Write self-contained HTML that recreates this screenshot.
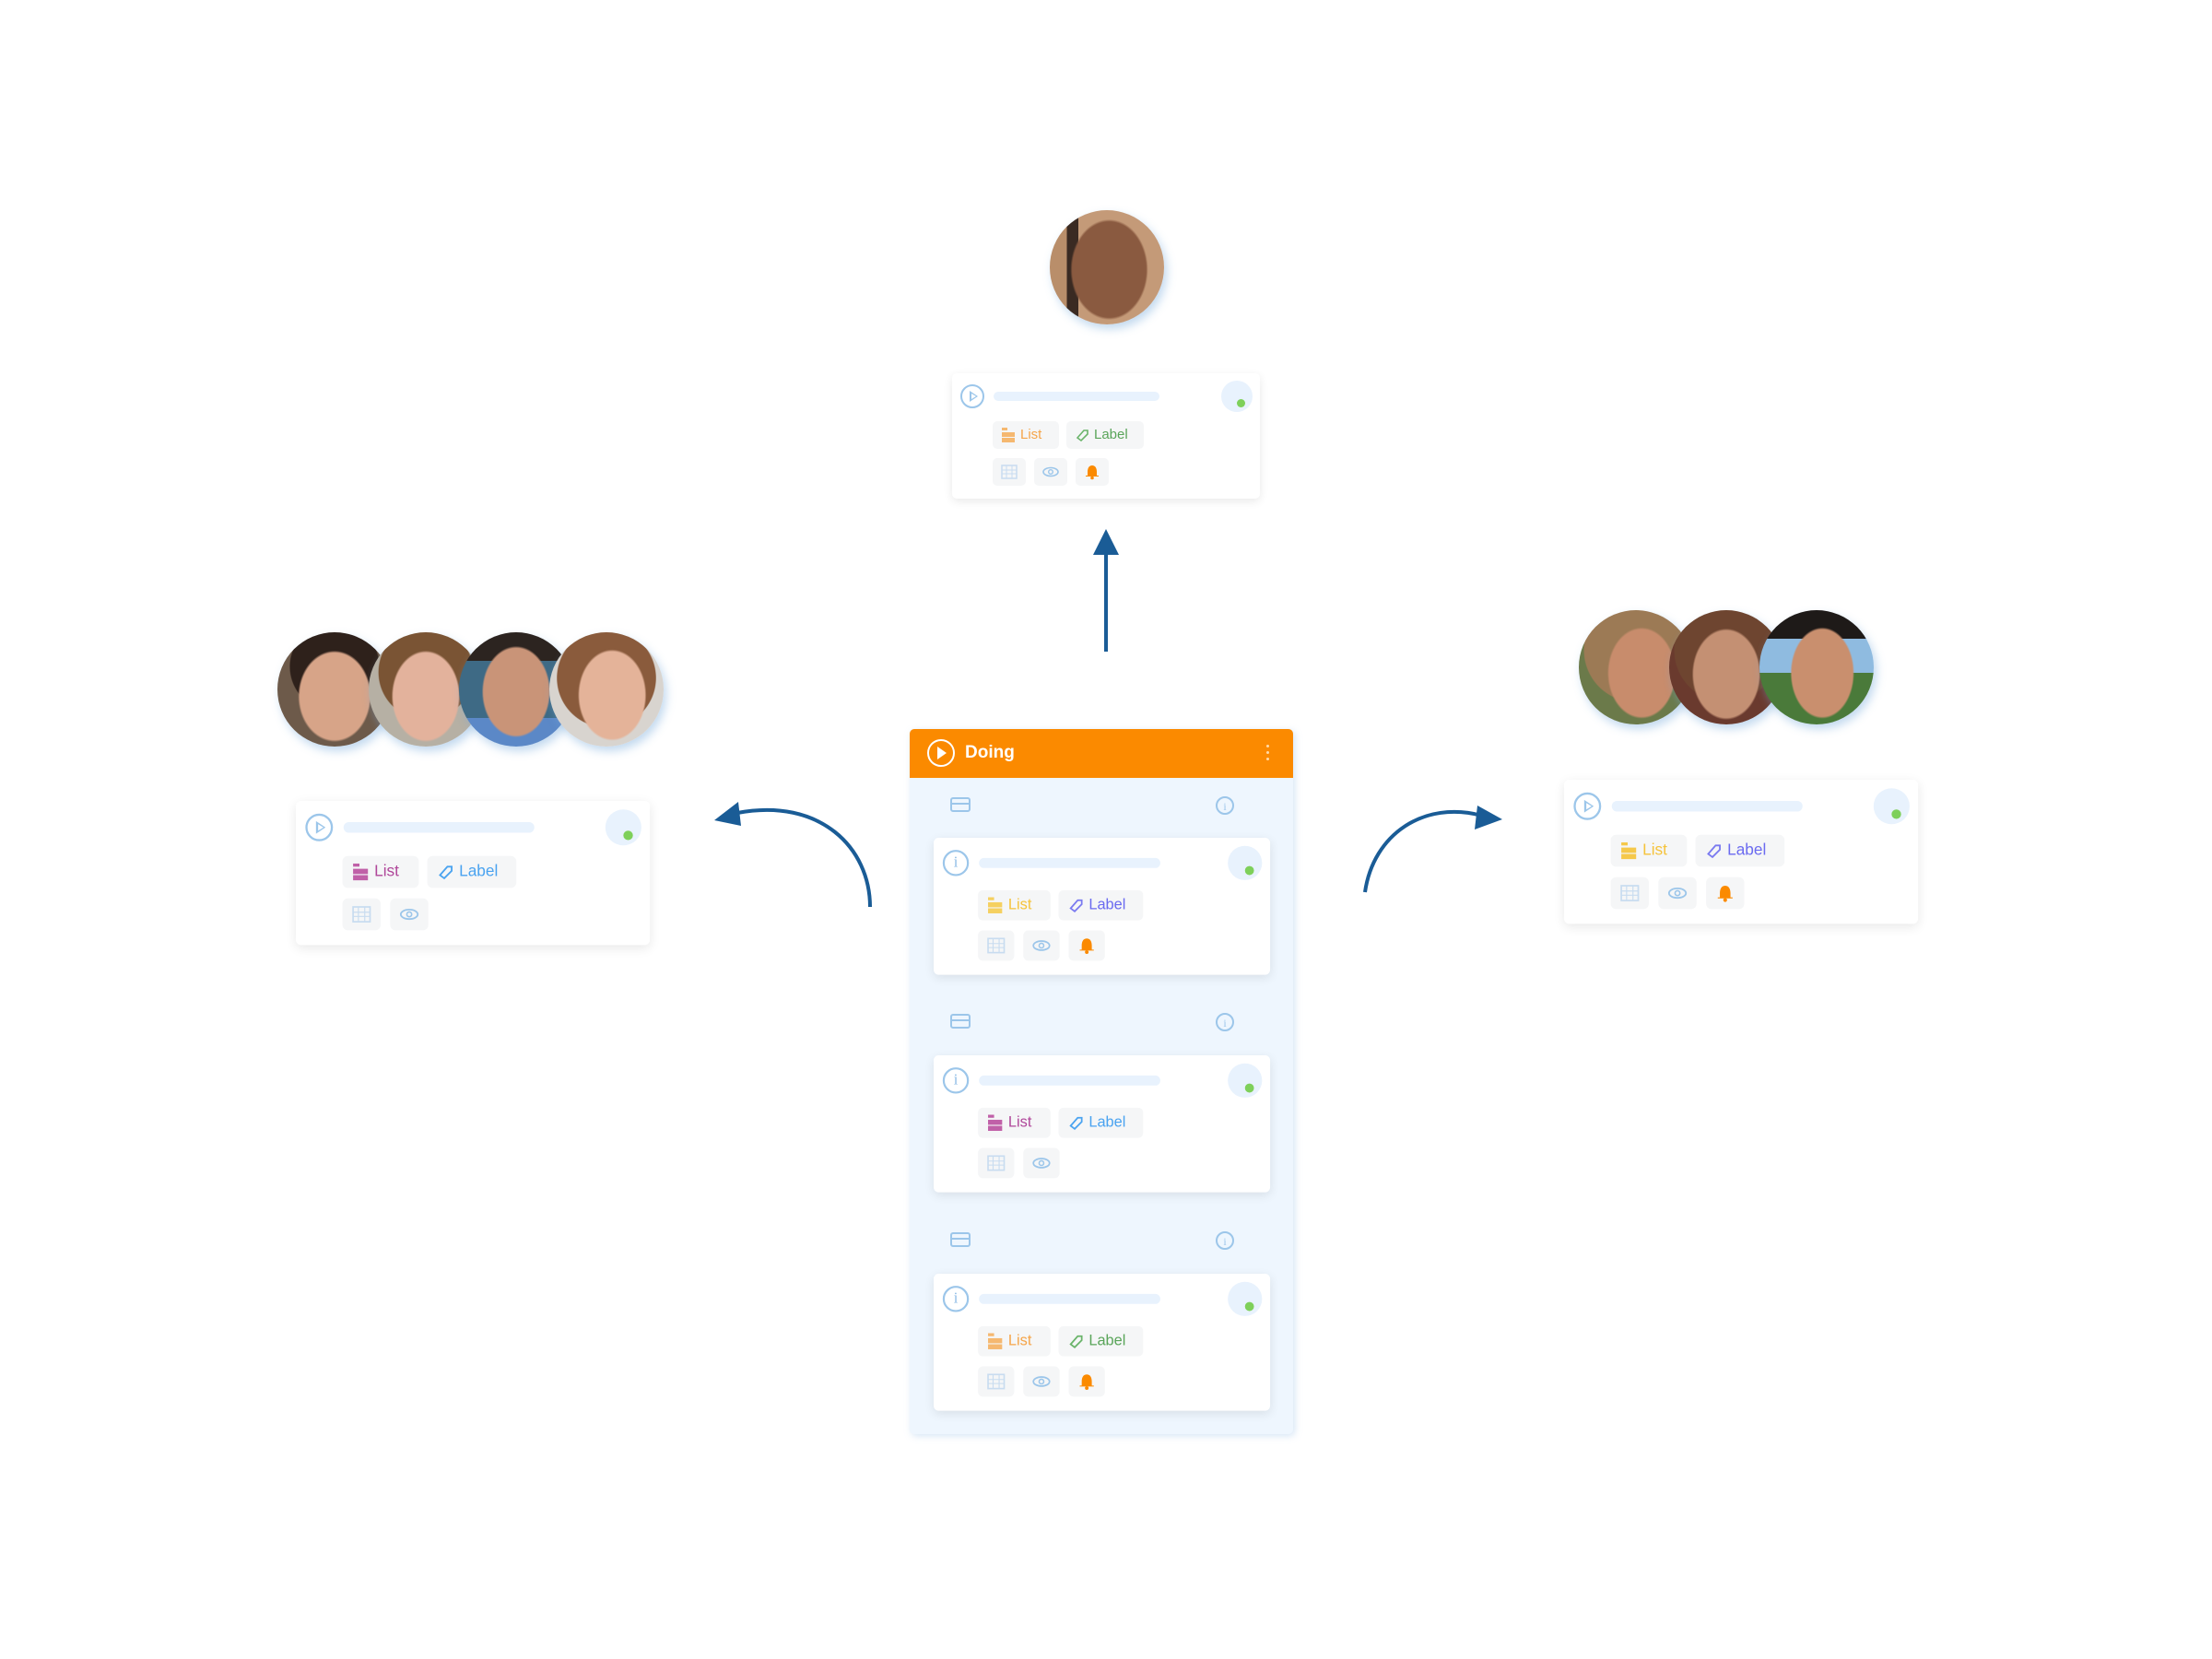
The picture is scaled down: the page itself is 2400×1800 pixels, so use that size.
<!DOCTYPE html>
<html><head><meta charset="utf-8">
<style>
*{box-sizing:border-box;margin:0;padding:0}
body{width:2400px;height:1800px;background:#fff;position:relative;overflow:hidden;font-family:"Liberation Sans",sans-serif}
.card{position:absolute;width:334px;height:136px;background:#fff;border-radius:5px;box-shadow:0 3px 10px rgba(0,0,0,.09);transform-origin:0 0}
.card .play{position:absolute;left:9px;top:12px;width:26px;height:26px;border:2px solid #9cc6ea;border-radius:50%}
.card .play:after{content:"";position:absolute;left:8px;top:5px;border-left:9px solid #9cc6ea;border-top:6px solid transparent;border-bottom:6px solid transparent}
.card .play i{position:absolute;left:10px;top:8px;border-left:5px solid #fff;border-top:3px solid transparent;border-bottom:3px solid transparent;z-index:2}
.card .info{position:absolute;left:9px;top:12px;width:26px;height:26px;border:2px solid #9cc6ea;border-radius:50%;color:#8cbbe6;font:15px "Liberation Serif",serif;text-align:center;line-height:22px}
.card .bar{position:absolute;left:45px;top:20px;width:180px;height:10px;border-radius:5px;background:#e8f2fd}
.card .av{position:absolute;left:292px;top:8px;width:34px;height:34px;border-radius:50%;background:#e8f2fd}
.card .dot{position:absolute;left:309px;top:28px;width:9px;height:9px;border-radius:50%;background:#7ed05a}
.chip{position:absolute;height:30px;border-radius:5px;background:#f5f6f7;font-size:15px;line-height:30px;padding-left:30px}
.chip.list{left:44px;top:52px;width:72px}
.chip.lab{left:124px;top:52px;width:84px}
.chip svg{position:absolute;left:9px;top:7px}
.ic{position:absolute;top:92px;width:36px;height:30px;border-radius:5px;background:#f5f6f7}
.ic svg{position:absolute;left:9px;top:6px}
.col{position:absolute;left:987px;top:791px;width:416px;height:765px;background:#eef6fe;border-radius:5px;box-shadow:2px 2px 8px rgba(150,190,230,.4)}
.hdr{position:absolute;left:987px;top:791px;width:416px;height:53px;background:#fb8a00;border-radius:5px 5px 0 0;color:#fff;font-size:19px;font-weight:bold}
.ava{position:absolute;width:124px;height:124px;border-radius:50%;overflow:hidden;box-shadow:3px 5px 10px rgba(120,170,220,.45)}
</style></head><body>

<svg width="0" height="0" style="position:absolute">
<defs>
<g id="listi"><rect x="1" y="0" width="6" height="3"/><rect x="1" y="5" width="14" height="5"/><rect x="1" y="11" width="14" height="5"/></g>
</defs></svg>

<!-- avatars -->
<div class="ava" style="left:1139px;top:228px;background:radial-gradient(ellipse 34% 44% at 52% 52%,#8a5a40 0 95%,transparent 100%),linear-gradient(90deg,#b98e6a 0 15%,#3a2a22 15% 25%,#c49a78 25%)"></div>
<div class="ava" style="left:301px;top:686px;background:radial-gradient(ellipse 32% 40% at 50% 56%,#d7a488 0 95%,transparent 100%),radial-gradient(circle at 50% 30%,#2e211b 45%,#6d5a4a 46%)"></div>
<div class="ava" style="left:400px;top:686px;background:radial-gradient(ellipse 30% 40% at 50% 56%,#e3b29c 0 95%,transparent 100%),radial-gradient(circle at 50% 35%,#7a5434 50%,#b6b0a4 51%)"></div>
<div class="ava" style="left:498px;top:686px;background:radial-gradient(ellipse 30% 40% at 50% 52%,#c99478 0 95%,transparent 100%),linear-gradient(180deg,#2c2420 0 25%,#3e6a85 25% 75%,#5b88c7 75%)"></div>
<div class="ava" style="left:596px;top:686px;background:radial-gradient(ellipse 30% 40% at 55% 55%,#e4b399 0 95%,transparent 100%),radial-gradient(circle at 50% 40%,#8a5b3c 55%,#d8d4cf 56%)"></div>
<div class="ava" style="left:1713px;top:662px;background:radial-gradient(ellipse 30% 40% at 55% 55%,#c88c6c 0 95%,transparent 100%),radial-gradient(circle at 50% 35%,#9c7a55 55%,#6b7a4a 56%)"></div>
<div class="ava" style="left:1811px;top:662px;background:radial-gradient(ellipse 30% 40% at 50% 56%,#c49073 0 95%,transparent 100%),radial-gradient(circle at 50% 35%,#6e4530 55%,#6a3a2e 56%)"></div>
<div class="ava" style="left:1909px;top:662px;background:radial-gradient(ellipse 28% 40% at 55% 55%,#c98f6e 0 95%,transparent 100%),linear-gradient(180deg,#1e1a18 0 25%,#8fbbe0 25% 55%,#4a7a3a 55%)"></div>

<!-- arrows -->
<svg style="position:absolute;left:0;top:0" width="2400" height="1800">
<g stroke="#1a5c96" stroke-width="4" fill="none">
<line x1="1200" y1="707" x2="1200" y2="595"/>
<path d="M944,984 C944,920 890,865 800,882"/>
<path d="M1481,968 C1490,905 1545,868 1608,885"/>
</g>
<g fill="#1a5c96">
<polygon points="1200,574 1186,602 1214,602"/>
<polygon points="775,890 801,870 804,896"/>
<polygon points="1630,889 1603,874 1600,900"/>
</g>
</svg>

<!-- column -->
<div class="col"></div>
<div class="hdr">
  <div style="position:absolute;left:19px;top:11px;width:30px;height:30px;border:2px solid #fff;border-radius:50%"></div>
  <div style="position:absolute;left:30px;top:19px;border-left:10px solid #fff;border-top:7px solid transparent;border-bottom:7px solid transparent"></div>
  <div style="position:absolute;left:60px;top:15px">Doing</div>
  <div style="position:absolute;right:26px;top:15px;width:3px;height:22px;background:radial-gradient(circle,#ffd9a6 1.4px,transparent 1.6px) 0 0/3px 7px"></div>
</div>
<!-- row icons -->
<svg style="position:absolute;left:0;top:0" width="2400" height="1800">
<g stroke="#9cc6ea" stroke-width="2" fill="none">
<rect x="1032" y="866" width="20" height="14" rx="2"/><line x1="1032" y1="872" x2="1052" y2="872"/>
<circle cx="1329" cy="874" r="9"/>
<rect x="1032" y="1101" width="20" height="14" rx="2"/><line x1="1032" y1="1107" x2="1052" y2="1107"/>
<circle cx="1329" cy="1109" r="9"/>
<rect x="1032" y="1338" width="20" height="14" rx="2"/><line x1="1032" y1="1344" x2="1052" y2="1344"/>
<circle cx="1329" cy="1346" r="9"/>
</g>
<g fill="#9cc6ea" font-size="12" font-family="Liberation Serif" text-anchor="middle">
<text x="1329" y="879">i</text><text x="1329" y="1114">i</text><text x="1329" y="1351">i</text>
</g>
</svg>

<!-- cards generator via repeated markup -->
<!-- top card -->
<div class="card" style="left:1033px;top:405px">
 <div class="play"><i></i></div><div class="bar"></div><div class="av"></div><div class="dot"></div>
 <div class="chip list" style="color:#f5a54a"><svg width="16" height="16" fill="#f5b870"><use href="#listi"/></svg>List</div>
 <div class="chip lab" style="color:#5aa55a"><svg width="16" height="16"><path d="M3,11 L10,3 L14,3 L14,7 L7,14 Z" fill="none" stroke="#6ab46a" stroke-width="1.6"/></svg>Label</div>
 <div class="ic" style="left:44px"><svg width="18" height="18"><rect x="1" y="2" width="16" height="14" fill="none" stroke="#c8dcf0" stroke-width="1.5"/><path d="M1,7H17M1,11H17M6,2V16M12,2V16" stroke="#c8dcf0"/></svg></div>
 <div class="ic" style="left:89px"><svg width="18" height="18"><ellipse cx="9" cy="9" rx="8" ry="4.5" fill="none" stroke="#9cc6ea" stroke-width="1.6"/><circle cx="9" cy="9" r="2.3" fill="none" stroke="#9cc6ea" stroke-width="1.4"/></svg></div>
 <div class="ic" style="left:134px"><svg width="18" height="18"><path d="M9,2C5,2 4,6 4,9V13H2V14H16V13H14V9C14,6 13,2 9,2Z" fill="#fb8a00"/><circle cx="9" cy="15.5" r="1.8" fill="#fb8a00"/></svg></div>
</div>

<!-- left card -->
<div class="card" style="left:321px;top:869px;transform:scale(1.15)">
 <div class="play"><i></i></div><div class="bar"></div><div class="av"></div><div class="dot"></div>
 <div class="chip list" style="color:#b0479a"><svg width="16" height="16" fill="#c060a8"><use href="#listi"/></svg>List</div>
 <div class="chip lab" style="color:#4aa3f0"><svg width="16" height="16"><path d="M3,11 L10,3 L14,3 L14,7 L7,14 Z" fill="none" stroke="#4aa3f0" stroke-width="1.6"/></svg>Label</div>
 <div class="ic" style="left:44px"><svg width="18" height="18"><rect x="1" y="2" width="16" height="14" fill="none" stroke="#c8dcf0" stroke-width="1.5"/><path d="M1,7H17M1,11H17M6,2V16M12,2V16" stroke="#c8dcf0"/></svg></div>
 <div class="ic" style="left:89px"><svg width="18" height="18"><ellipse cx="9" cy="9" rx="8" ry="4.5" fill="none" stroke="#9cc6ea" stroke-width="1.6"/><circle cx="9" cy="9" r="2.3" fill="none" stroke="#9cc6ea" stroke-width="1.4"/></svg></div>
</div>

<!-- right card -->
<div class="card" style="left:1697px;top:846px;transform:scale(1.15)">
 <div class="play"><i></i></div><div class="bar"></div><div class="av"></div><div class="dot"></div>
 <div class="chip list" style="color:#f5c33b"><svg width="16" height="16" fill="#f5c84a"><use href="#listi"/></svg>List</div>
 <div class="chip lab" style="color:#6b6bf0"><svg width="16" height="16"><path d="M3,11 L10,3 L14,3 L14,7 L7,14 Z" fill="none" stroke="#7a7af0" stroke-width="1.6"/></svg>Label</div>
 <div class="ic" style="left:44px"><svg width="18" height="18"><rect x="1" y="2" width="16" height="14" fill="none" stroke="#c8dcf0" stroke-width="1.5"/><path d="M1,7H17M1,11H17M6,2V16M12,2V16" stroke="#c8dcf0"/></svg></div>
 <div class="ic" style="left:89px"><svg width="18" height="18"><ellipse cx="9" cy="9" rx="8" ry="4.5" fill="none" stroke="#9cc6ea" stroke-width="1.6"/><circle cx="9" cy="9" r="2.3" fill="none" stroke="#9cc6ea" stroke-width="1.4"/></svg></div>
 <div class="ic" style="left:134px"><svg width="18" height="18"><path d="M9,2C5,2 4,6 4,9V13H2V14H16V13H14V9C14,6 13,2 9,2Z" fill="#fb8a00"/><circle cx="9" cy="15.5" r="1.8" fill="#fb8a00"/></svg></div>
</div>

<!-- central cards -->
<div class="card" style="left:1013px;top:909px;transform:scale(1.093)">
 <div class="info">i</div><div class="bar"></div><div class="av"></div><div class="dot"></div>
 <div class="chip list" style="color:#f5c33b"><svg width="16" height="16" fill="#f5d060"><use href="#listi"/></svg>List</div>
 <div class="chip lab" style="color:#6b6bf0"><svg width="16" height="16"><path d="M3,11 L10,3 L14,3 L14,7 L7,14 Z" fill="none" stroke="#7a7af0" stroke-width="1.6"/></svg>Label</div>
 <div class="ic" style="left:44px"><svg width="18" height="18"><rect x="1" y="2" width="16" height="14" fill="none" stroke="#c8dcf0" stroke-width="1.5"/><path d="M1,7H17M1,11H17M6,2V16M12,2V16" stroke="#c8dcf0"/></svg></div>
 <div class="ic" style="left:89px"><svg width="18" height="18"><ellipse cx="9" cy="9" rx="8" ry="4.5" fill="none" stroke="#9cc6ea" stroke-width="1.6"/><circle cx="9" cy="9" r="2.3" fill="none" stroke="#9cc6ea" stroke-width="1.4"/></svg></div>
 <div class="ic" style="left:134px"><svg width="18" height="18"><path d="M9,2C5,2 4,6 4,9V13H2V14H16V13H14V9C14,6 13,2 9,2Z" fill="#fb8a00"/><circle cx="9" cy="15.5" r="1.8" fill="#fb8a00"/></svg></div>
</div>
<div class="card" style="left:1013px;top:1145px;transform:scale(1.093)">
 <div class="info">i</div><div class="bar"></div><div class="av"></div><div class="dot"></div>
 <div class="chip list" style="color:#b0479a"><svg width="16" height="16" fill="#c060a8"><use href="#listi"/></svg>List</div>
 <div class="chip lab" style="color:#4aa3f0"><svg width="16" height="16"><path d="M3,11 L10,3 L14,3 L14,7 L7,14 Z" fill="none" stroke="#4aa3f0" stroke-width="1.6"/></svg>Label</div>
 <div class="ic" style="left:44px"><svg width="18" height="18"><rect x="1" y="2" width="16" height="14" fill="none" stroke="#c8dcf0" stroke-width="1.5"/><path d="M1,7H17M1,11H17M6,2V16M12,2V16" stroke="#c8dcf0"/></svg></div>
 <div class="ic" style="left:89px"><svg width="18" height="18"><ellipse cx="9" cy="9" rx="8" ry="4.5" fill="none" stroke="#9cc6ea" stroke-width="1.6"/><circle cx="9" cy="9" r="2.3" fill="none" stroke="#9cc6ea" stroke-width="1.4"/></svg></div>
</div>
<div class="card" style="left:1013px;top:1382px;transform:scale(1.093)">
 <div class="info">i</div><div class="bar"></div><div class="av"></div><div class="dot"></div>
 <div class="chip list" style="color:#f5a54a"><svg width="16" height="16" fill="#f5b870"><use href="#listi"/></svg>List</div>
 <div class="chip lab" style="color:#5aa55a"><svg width="16" height="16"><path d="M3,11 L10,3 L14,3 L14,7 L7,14 Z" fill="none" stroke="#6ab46a" stroke-width="1.6"/></svg>Label</div>
 <div class="ic" style="left:44px"><svg width="18" height="18"><rect x="1" y="2" width="16" height="14" fill="none" stroke="#c8dcf0" stroke-width="1.5"/><path d="M1,7H17M1,11H17M6,2V16M12,2V16" stroke="#c8dcf0"/></svg></div>
 <div class="ic" style="left:89px"><svg width="18" height="18"><ellipse cx="9" cy="9" rx="8" ry="4.5" fill="none" stroke="#9cc6ea" stroke-width="1.6"/><circle cx="9" cy="9" r="2.3" fill="none" stroke="#9cc6ea" stroke-width="1.4"/></svg></div>
 <div class="ic" style="left:134px"><svg width="18" height="18"><path d="M9,2C5,2 4,6 4,9V13H2V14H16V13H14V9C14,6 13,2 9,2Z" fill="#fb8a00"/><circle cx="9" cy="15.5" r="1.8" fill="#fb8a00"/></svg></div>
</div>

</body></html>
